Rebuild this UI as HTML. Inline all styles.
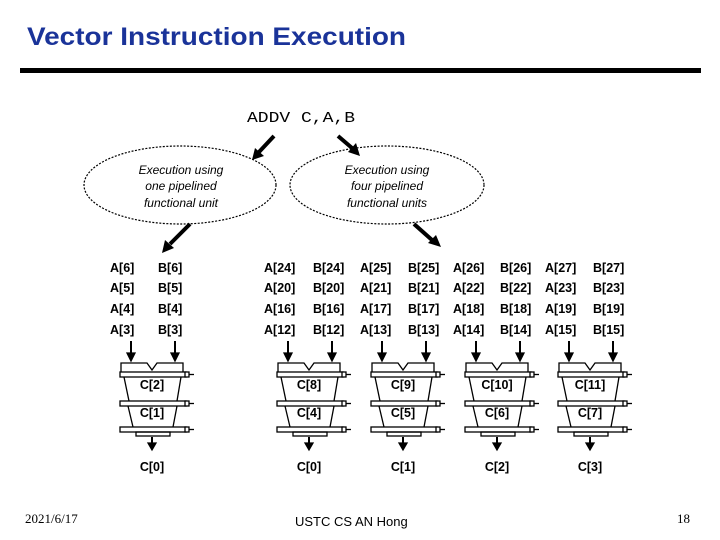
<!DOCTYPE html>
<html><head><meta charset="utf-8"><style>
html,body{margin:0;padding:0;background:#fff;}
svg{display:block;}
</style></head><body>
<svg width="720" height="540" viewBox="0 0 720 540" xmlns="http://www.w3.org/2000/svg">
<defs>
<g id="pipe" fill="none" stroke="#000" stroke-width="1.3">
  <line x1="-21" y1="341" x2="-21" y2="354" stroke-width="2"/>
  <polygon points="-25,353 -17,353 -21,361" fill="#000"/>
  <line x1="23" y1="341" x2="23" y2="354" stroke-width="2"/>
  <polygon points="19,353 27,353 23,361" fill="#000"/>
  <path d="M-31,372 L-31,363 L-5,363 L0,370 L5,363 L31,363 L31,372"/>
  <rect x="-32" y="372" width="66" height="5" fill="#fff"/>
  <rect x="33" y="372" width="4" height="5" fill="#fff"/>
  <line x1="37" y1="374.5" x2="42" y2="374.5"/>
  <path d="M-28,377 L-23,401 M29,377 L25,401"/>
  <rect x="-32" y="401" width="66" height="5" fill="#fff"/>
  <rect x="33" y="401" width="4" height="5" fill="#fff"/>
  <line x1="37" y1="403.5" x2="42" y2="403.5"/>
  <path d="M-24,406 L-19,427 M25,406 L21,427"/>
  <rect x="-32" y="427" width="66" height="5" fill="#fff"/>
  <rect x="33" y="427" width="4" height="5" fill="#fff"/>
  <line x1="37" y1="429.5" x2="42" y2="429.5"/>
  <rect x="-16" y="432" width="34" height="4"/>
  <line x1="0" y1="437" x2="0" y2="444" stroke-width="2"/>
  <polygon points="-4,443 4,443 0,450" fill="#000"/>
</g>
</defs>

<text x="27" y="45" font-family="Liberation Sans, sans-serif" font-weight="bold" font-size="25" fill="#1a3399" textLength="379" lengthAdjust="spacingAndGlyphs">Vector Instruction Execution</text>
<rect x="20" y="68" width="681" height="5" fill="#000"/>

<text x="247" y="122" font-family="Liberation Mono, monospace" font-size="15" fill="#000" textLength="108" lengthAdjust="spacingAndGlyphs">ADDV C,A,B</text>

<g stroke="#000" stroke-width="4">
  <line x1="274" y1="136" x2="259" y2="152"/>
  <line x1="338" y1="136" x2="352" y2="148"/>
  <line x1="190" y1="224" x2="170" y2="244"/>
  <line x1="414" y1="224" x2="432" y2="240"/>
</g>
<polygon points="252,160 255,148 264,156" fill="#000"/>
<polygon points="360,156 348,152 356,143" fill="#000"/>
<polygon points="162,253 165,240 174,248" fill="#000"/>
<polygon points="441,247 428,243 436,235" fill="#000"/>

<ellipse cx="180" cy="185" rx="96" ry="39" fill="none" stroke="#000" stroke-width="1.2" stroke-dasharray="2,1.5"/>
<ellipse cx="387" cy="185" rx="97" ry="39" fill="none" stroke="#000" stroke-width="1.2" stroke-dasharray="2,1.5"/>
<g font-family="Liberation Sans, sans-serif" font-style="italic" font-size="12" text-anchor="middle" fill="#000">
  <text x="181" y="174">Execution using</text>
  <text x="181" y="190">one pipelined</text>
  <text x="181" y="207">functional unit</text>
  <text x="387" y="174">Execution using</text>
  <text x="387" y="190">four pipelined</text>
  <text x="387" y="207">functional units</text>
</g>

<g font-family="Liberation Sans, sans-serif" font-weight="bold" font-size="12.5" fill="#000">
  <text x="110" y="272">A[6]</text><text x="158" y="272">B[6]</text>
  <text x="110" y="292">A[5]</text><text x="158" y="292">B[5]</text>
  <text x="110" y="313">A[4]</text><text x="158" y="313">B[4]</text>
  <text x="110" y="334">A[3]</text><text x="158" y="334">B[3]</text>

  <text x="264" y="272">A[24]</text><text x="313" y="272">B[24]</text><text x="360" y="272">A[25]</text><text x="408" y="272">B[25]</text><text x="453" y="272">A[26]</text><text x="500" y="272">B[26]</text><text x="545" y="272">A[27]</text><text x="593" y="272">B[27]</text>
  <text x="264" y="292">A[20]</text><text x="313" y="292">B[20]</text><text x="360" y="292">A[21]</text><text x="408" y="292">B[21]</text><text x="453" y="292">A[22]</text><text x="500" y="292">B[22]</text><text x="545" y="292">A[23]</text><text x="593" y="292">B[23]</text>
  <text x="264" y="313">A[16]</text><text x="313" y="313">B[16]</text><text x="360" y="313">A[17]</text><text x="408" y="313">B[17]</text><text x="453" y="313">A[18]</text><text x="500" y="313">B[18]</text><text x="545" y="313">A[19]</text><text x="593" y="313">B[19]</text>
  <text x="264" y="334">A[12]</text><text x="313" y="334">B[12]</text><text x="360" y="334">A[13]</text><text x="408" y="334">B[13]</text><text x="453" y="334">A[14]</text><text x="500" y="334">B[14]</text><text x="545" y="334">A[15]</text><text x="593" y="334">B[15]</text>
</g>

<use href="#pipe" x="152"/>
<use href="#pipe" x="309"/>
<use href="#pipe" x="403"/>
<use href="#pipe" x="497"/>
<use href="#pipe" x="590"/>

<g font-family="Liberation Sans, sans-serif" font-weight="bold" font-size="12.5" text-anchor="middle" fill="#000">
  <text x="152" y="389">C[2]</text><text x="152" y="417">C[1]</text><text x="152" y="471">C[0]</text>
  <text x="309" y="389">C[8]</text><text x="309" y="417">C[4]</text><text x="309" y="471">C[0]</text>
  <text x="403" y="389">C[9]</text><text x="403" y="417">C[5]</text><text x="403" y="471">C[1]</text>
  <text x="497" y="389">C[10]</text><text x="497" y="417">C[6]</text><text x="497" y="471">C[2]</text>
  <text x="590" y="389">C[11]</text><text x="590" y="417">C[7]</text><text x="590" y="471">C[3]</text>
</g>

<text x="25" y="523" font-family="Liberation Serif, serif" font-size="13" fill="#000">2021/6/17</text>
<text x="295" y="526" font-family="Liberation Sans, sans-serif" font-size="13" fill="#000">USTC CS AN Hong</text>
<text x="677" y="523" font-family="Liberation Serif, serif" font-size="13" fill="#000">18</text>
</svg>
</body></html>
